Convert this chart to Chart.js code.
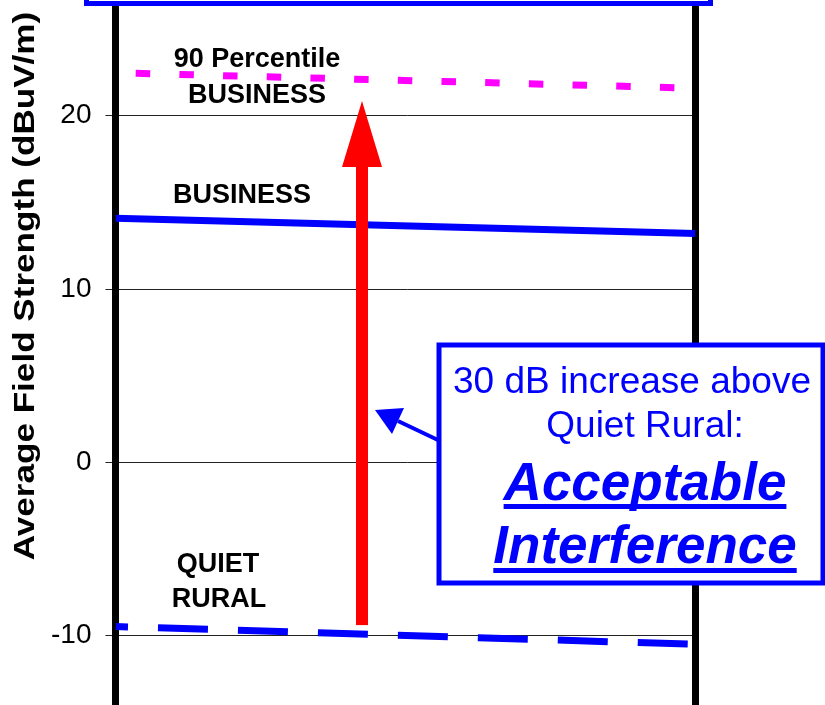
<!DOCTYPE html>
<html>
<head>
<meta charset="utf-8">
<script src="https://cdn.jsdelivr.net/npm/chart.js@4.4.0/dist/chart.umd.min.js"></script>
<style>
    html, body { margin: 0; padding: 0; background: #fff; }
    #wrap { width: 825px; height: 705px; }
</style>
</head>
<body>
<div id="wrap"><canvas id="chart" width="825" height="705"></canvas></div>
<script>
// x runs across the plot, 0 = left axis, 1 = right axis
const xPositions = [0, 1];
const business90 = [22.48, 21.59];
const business = [14.09, 13.21];
const quietRural = [-9.47, -10.5];
const yTicks = [-10, 0, 10, 20];
const yRange = [-14.0, 26.68];
// red arrow: rise from quiet rural up to the 90 percentile business level
const arrowX = [0.425];
const arrowSpan = [-9.39, 20.85];

const FONT = "'Liberation Sans', Arial, sans-serif";

function toPoints(values) {
    return values.map((v, i) => ({ x: xPositions[i], y: v }));
}

function fitWidth(w) {
    return function (scale) {
        scale.width = w;
        scale.paddingTop = 0;
        scale.paddingBottom = 0;
    };
}

function label(ctx, text, x, y, font, color) {
    ctx.font = font;
    ctx.fillStyle = color;
    ctx.textAlign = 'center';
    ctx.textBaseline = 'alphabetic';
    ctx.fillText(text, x, y);
}

function underlined(ctx, text, x, y, font, lineY) {
    label(ctx, text, x, y, font, '#0000ff');
    const w = ctx.measureText(text).width;
    ctx.fillRect(x - w / 2, lineY, w, 5);
}

const overlay = {
    id: 'overlay',
    afterDatasetsDraw(chart) {
        const ctx = chart.ctx;
        const xs = chart.scales.x;
        const ys = chart.scales.y;

        // red arrow
        const ax = xs.getPixelForValue(arrowX[0]);
        const yBase = ys.getPixelForValue(arrowSpan[0]);
        const yTip = ys.getPixelForValue(arrowSpan[1]);
        const headLen = 66;
        ctx.save();
        ctx.fillStyle = '#ff0000';
        ctx.fillRect(ax - 6, yTip + headLen - 1, 12, yBase - yTip - headLen + 1);
        ctx.beginPath();
        ctx.moveTo(ax, yTip);
        ctx.lineTo(ax + 20, yTip + headLen);
        ctx.lineTo(ax - 20, yTip + headLen);
        ctx.closePath();
        ctx.fill();

        // series labels
        const bold = 'bold 27px ' + FONT;
        label(ctx, '90 Percentile', 257, 67, bold, '#000');
        label(ctx, 'BUSINESS', 257, 103, bold, '#000');
        label(ctx, 'BUSINESS', 242, 203, bold, '#000');
        label(ctx, 'QUIET', 218, 572, bold, '#000');
        label(ctx, 'RURAL', 219, 607, bold, '#000');

        // y axis title, stretched along its length like the original
        ctx.save();
        ctx.translate(34, 286);
        ctx.rotate(-Math.PI / 2);
        ctx.scale(1.21, 1);
        label(ctx, 'Average Field Strength (dBuV/m)', 0, 0, 'bold 29px ' + FONT, '#000');
        ctx.restore();

        // callout pointer
        ctx.strokeStyle = '#0000ff';
        ctx.fillStyle = '#0000ff';
        ctx.lineWidth = 4;
        ctx.beginPath();
        ctx.moveTo(440, 441);
        ctx.lineTo(398, 421);
        ctx.stroke();
        ctx.beginPath();
        ctx.moveTo(375, 410);
        ctx.lineTo(404, 408);
        ctx.lineTo(392, 434);
        ctx.closePath();
        ctx.fill();

        // callout box
        ctx.fillStyle = '#fff';
        ctx.fillRect(439, 345, 384, 238);
        ctx.lineWidth = 5;
        ctx.strokeRect(439, 345, 384, 238);
        label(ctx, '30 dB increase above', 632, 393, '37px ' + FONT, '#0000ff');
        label(ctx, 'Quiet Rural:', 645, 437, '37px ' + FONT, '#0000ff');
        underlined(ctx, 'Acceptable', 645, 500, 'italic bold 53px ' + FONT, 504);
        underlined(ctx, 'Interference', 645, 563, 'italic bold 53px ' + FONT, 568);

        // title box edge at the top
        ctx.fillStyle = '#fff';
        ctx.fillRect(86, -20, 625, 23);
        ctx.strokeStyle = '#0000ff';
        ctx.strokeRect(86.5, -20, 624, 23.5);
        ctx.restore();
    }
};

new Chart(document.getElementById('chart'), {
    type: 'line',
    data: {
        datasets: [{
            label: '90 Percentile BUSINESS',
            data: toPoints(business90),
            borderColor: '#ff00ff',
            borderWidth: 7,
            borderDash: [14.5, 29.2],
            borderDashOffset: 23.5,
            borderCapStyle: 'butt',
            pointRadius: 0,
            tension: 0
        }, {
            label: 'BUSINESS',
            data: toPoints(business),
            borderColor: '#0000ff',
            borderWidth: 7,
            pointRadius: 0,
            tension: 0
        }, {
            label: 'QUIET RURAL',
            data: toPoints(quietRural),
            borderColor: '#0000ff',
            borderWidth: 7,
            borderDash: [50, 30],
            borderDashOffset: 37.5,
            borderCapStyle: 'butt',
            pointRadius: 0,
            tension: 0
        }]
    },
    options: {
        responsive: false,
        animation: false,
        devicePixelRatio: 1,
        layout: { padding: 0 },
        plugins: {
            legend: { display: false },
            tooltip: { enabled: false }
        },
        scales: {
            x: { type: 'linear', min: 0, max: 1, display: false },
            y: {
                position: 'left',
                min: yRange[0],
                max: yRange[1],
                afterBuildTicks: s => { s.ticks = yTicks.map(v => ({ value: v })); },
                afterFit: fitWidth(115.5),
                ticks: {
                    color: '#000',
                    padding: 14,
                    font: { family: FONT, size: 28 }
                },
                grid: { color: '#222', lineWidth: 1, tickLength: 10 },
                border: { color: '#000', width: 7 }
            },
            y2: {
                position: 'right',
                min: yRange[0],
                max: yRange[1],
                afterFit: fitWidth(129.5),
                ticks: { display: false },
                grid: { display: false },
                border: { color: '#000', width: 7 }
            }
        }
    },
    plugins: [overlay]
});
</script>
</body>
</html>
